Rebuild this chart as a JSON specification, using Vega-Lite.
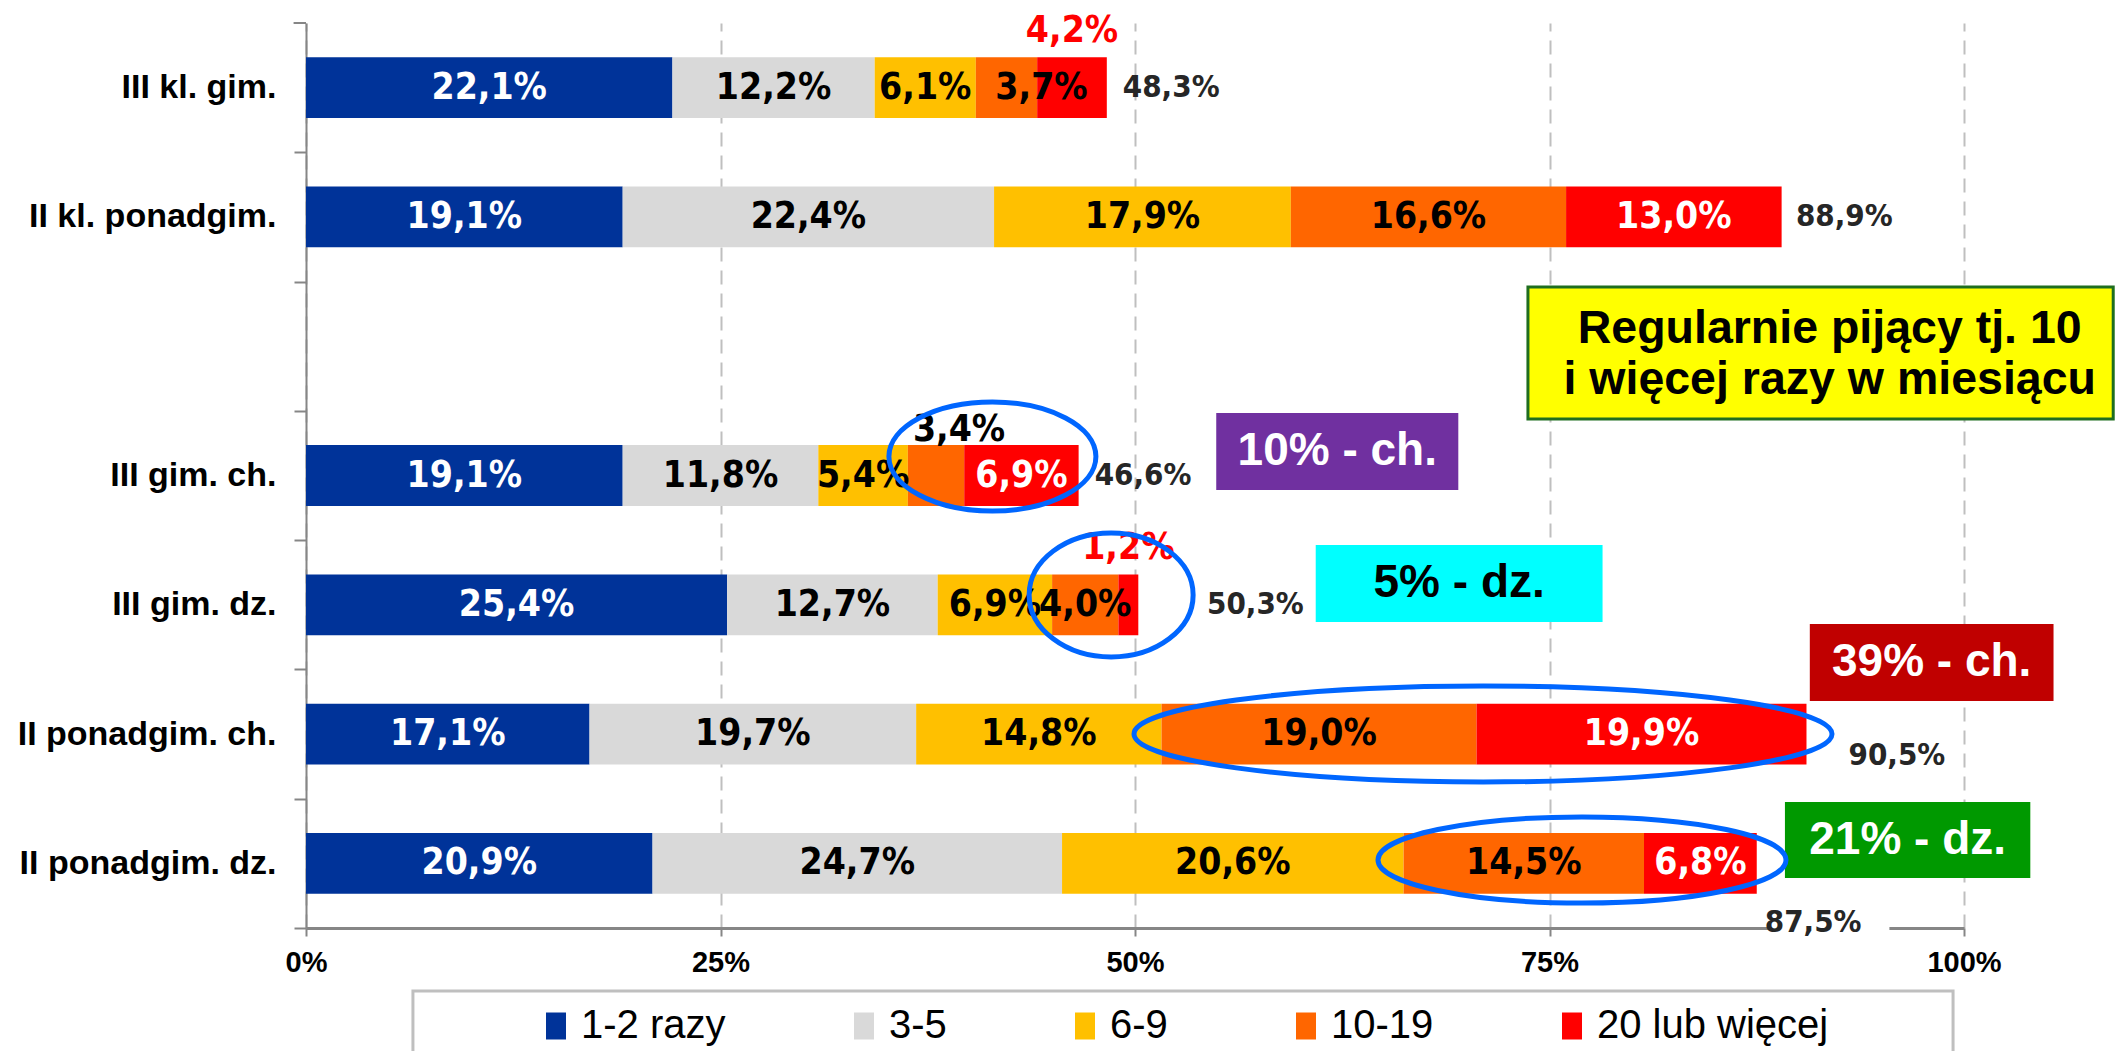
{
  "$schema": "https://vega.github.io/schema/vega-lite/v6.json",
  "width": 1658,
  "height": 905,
  "autosize": {"type": "none"},
  "padding": {"left": 306, "top": 23, "right": 157, "bottom": 123},
  "background": "#FFFFFF",
  "config": {"view": {"stroke": null}},
  "datasets": {
    "seg": [
      {"g": "III kl. gim.", "s": "1-2 razy", "k": 1, "v": 22.1, "lab": "22,1%"},
      {"g": "III kl. gim.", "s": "3-5", "k": 2, "v": 12.2, "lab": "12,2%"},
      {"g": "III kl. gim.", "s": "6-9", "k": 3, "v": 6.1, "lab": "6,1%"},
      {"g": "III kl. gim.", "s": "10-19", "k": 4, "v": 3.7, "lab": "3,7%"},
      {"g": "III kl. gim.", "s": "20 lub więcej", "k": 5, "v": 4.2, "lab": "4,2%"},
      {"g": "II kl. ponadgim.", "s": "1-2 razy", "k": 1, "v": 19.1, "lab": "19,1%"},
      {"g": "II kl. ponadgim.", "s": "3-5", "k": 2, "v": 22.4, "lab": "22,4%"},
      {"g": "II kl. ponadgim.", "s": "6-9", "k": 3, "v": 17.9, "lab": "17,9%"},
      {"g": "II kl. ponadgim.", "s": "10-19", "k": 4, "v": 16.6, "lab": "16,6%"},
      {"g": "II kl. ponadgim.", "s": "20 lub więcej", "k": 5, "v": 13.0, "lab": "13,0%"},
      {"g": "III gim. ch.", "s": "1-2 razy", "k": 1, "v": 19.1, "lab": "19,1%"},
      {"g": "III gim. ch.", "s": "3-5", "k": 2, "v": 11.8, "lab": "11,8%"},
      {"g": "III gim. ch.", "s": "6-9", "k": 3, "v": 5.4, "lab": "5,4%"},
      {"g": "III gim. ch.", "s": "10-19", "k": 4, "v": 3.4, "lab": "3,4%"},
      {"g": "III gim. ch.", "s": "20 lub więcej", "k": 5, "v": 6.9, "lab": "6,9%"},
      {"g": "III gim. dz.", "s": "1-2 razy", "k": 1, "v": 25.4, "lab": "25,4%"},
      {"g": "III gim. dz.", "s": "3-5", "k": 2, "v": 12.7, "lab": "12,7%"},
      {"g": "III gim. dz.", "s": "6-9", "k": 3, "v": 6.9, "lab": "6,9%"},
      {"g": "III gim. dz.", "s": "10-19", "k": 4, "v": 4.0, "lab": "4,0%"},
      {"g": "III gim. dz.", "s": "20 lub więcej", "k": 5, "v": 1.2, "lab": "1,2%"},
      {"g": "II ponadgim. ch.", "s": "1-2 razy", "k": 1, "v": 17.1, "lab": "17,1%"},
      {"g": "II ponadgim. ch.", "s": "3-5", "k": 2, "v": 19.7, "lab": "19,7%"},
      {"g": "II ponadgim. ch.", "s": "6-9", "k": 3, "v": 14.8, "lab": "14,8%"},
      {"g": "II ponadgim. ch.", "s": "10-19", "k": 4, "v": 19.0, "lab": "19,0%"},
      {"g": "II ponadgim. ch.", "s": "20 lub więcej", "k": 5, "v": 19.9, "lab": "19,9%"},
      {"g": "II ponadgim. dz.", "s": "1-2 razy", "k": 1, "v": 20.9, "lab": "20,9%"},
      {"g": "II ponadgim. dz.", "s": "3-5", "k": 2, "v": 24.7, "lab": "24,7%"},
      {"g": "II ponadgim. dz.", "s": "6-9", "k": 3, "v": 20.6, "lab": "20,6%"},
      {"g": "II ponadgim. dz.", "s": "10-19", "k": 4, "v": 14.5, "lab": "14,5%"},
      {"g": "II ponadgim. dz.", "s": "20 lub więcej", "k": 5, "v": 6.8, "lab": "6,8%"}
    ],
    "tot": [
      {"g": "III kl. gim.", "t": 48.3, "lab": "48,3%"},
      {"g": "II kl. ponadgim.", "t": 88.9, "lab": "88,9%"},
      {"g": "III gim. ch.", "t": 46.6, "lab": "46,6%"},
      {"g": "III gim. dz.", "t": 50.3, "lab": "50,3%"},
      {"g": "II ponadgim. ch.", "t": 90.5, "lab": "90,5%"},
      {"g": "II ponadgim. dz.", "t": 87.5, "lab": "87,5%"}
    ]
  },
  "layer": [
    {
      "data": {"name": "seg"},
      "transform": [
        {"stack": "v", "groupby": ["g"], "sort": [{"field": "k", "order": "ascending"}], "as": ["x0", "x1"]},
        {"calculate": "(datum.x0 + datum.x1) / 2", "as": "xm"}
      ],
      "layer": [
        {
          "mark": {"type": "bar", "opacity": 1},
          "encoding": {
            "y": {
              "field": "g", "type": "nominal", "title": null,
              "scale": {"domain": ["III kl. gim.", "II kl. ponadgim.", " ", "III gim. ch.", "III gim. dz.", "II ponadgim. ch.", "II ponadgim. dz."], "paddingInner": 0.53, "paddingOuter": 0.265},
              "axis": {"title": null, "domainColor": "#868686", "domainWidth": 2, "tickColor": "#868686", "tickWidth": 2, "tickSize": 12, "bandPosition": 1, "tickOffset": 34.2, "labelOffset": -34.2, "labelFont": "Liberation Sans", "labelFontWeight": "bold", "labelFontSize": 34, "labelColor": "#000000", "labelPadding": 18, "labelLimit": 400, "grid": false}
            },
            "x": {
              "field": "x0", "type": "quantitative", "title": null,
              "scale": {"domain": [0, 100], "nice": false, "zero": false},
              "axis": {"title": null, "values": [0, 25, 50, 75, 100], "labelExpr": "datum.value + '%'", "labelFlush": false, "domainColor": "#868686", "domainWidth": 3, "tickColor": "#868686", "tickWidth": 2, "tickSize": 8, "labelFont": "Liberation Sans", "labelFontWeight": "bold", "labelFontSize": 29, "labelColor": "#000000", "labelPadding": 12, "grid": true, "gridColor": "#BFBFBF", "gridWidth": 2, "gridDash": [14, 9]}
            },
            "x2": {"field": "x1"},
            "color": {
              "field": "s", "type": "nominal",
              "scale": {"domain": ["1-2 razy", "3-5", "6-9", "10-19", "20 lub więcej"], "range": ["#003399", "#D9D9D9", "#FFC000", "#FF6600", "#FF0000"]},
              "legend": {"orient": "none", "legendX": 230, "legendY": 983, "direction": "horizontal", "title": null, "padding": 0, "symbolType": "M -0.74 -1 L 0.74 -1 L 0.74 1 L -0.74 1 Z", "symbolSize": 729, "symbolStrokeWidth": 0, "labelFont": "Liberation Sans", "labelFontSize": 40, "labelColor": "#000000", "labelOffset": 5, "columnPadding": 118, "labelLimit": 500}
            }
          }
        },
        {
          "transform": [{"filter": "!((datum.g == 'III kl. gim.' && datum.k >= 4) || (datum.g == 'III gim. ch.' && datum.k == 4) || (datum.g == 'III gim. dz.' && datum.k == 5))"}],
          "mark": {"type": "text", "font": "DejaVu Sans Condensed, Liberation Sans Narrow", "fontWeight": "bold", "fontSize": 37, "align": "center", "baseline": "middle"},
          "encoding": {
            "y": {"field": "g", "type": "nominal", "title": null, "scale": {"domain": ["III kl. gim.", "II kl. ponadgim.", " ", "III gim. ch.", "III gim. dz.", "II ponadgim. ch.", "II ponadgim. dz."], "paddingInner": 0.53, "paddingOuter": 0.265}},
            "x": {"field": "xm", "type": "quantitative", "title": null, "scale": {"domain": [0, 100], "nice": false, "zero": false}},
            "text": {"field": "lab"},
            "color": {"condition": {"test": "datum.k == 1 || datum.k == 5", "value": "#FFFFFF"}, "value": "#000000"}
          }
        },
        {
          "transform": [{"filter": "datum.g == 'III kl. gim.' && datum.k == 4"}],
          "mark": {"type": "text", "font": "DejaVu Sans Condensed, Liberation Sans Narrow", "fontWeight": "bold", "fontSize": 37, "align": "center", "baseline": "middle", "dx": 35, "color": "#000000"},
          "encoding": {
            "y": {"field": "g", "type": "nominal", "title": null, "scale": {"domain": ["III kl. gim.", "II kl. ponadgim.", " ", "III gim. ch.", "III gim. dz.", "II ponadgim. ch.", "II ponadgim. dz."], "paddingInner": 0.53, "paddingOuter": 0.265}},
            "x": {"field": "xm", "type": "quantitative", "title": null, "scale": {"domain": [0, 100], "nice": false, "zero": false}},
            "text": {"field": "lab"}
          }
        },
        {
          "transform": [{"filter": "(datum.g == 'III kl. gim.' || datum.g == 'III gim. dz.') && datum.k == 5"}],
          "mark": {"type": "text", "font": "DejaVu Sans Condensed, Liberation Sans Narrow", "fontWeight": "bold", "fontSize": 37, "align": "center", "baseline": "middle", "dy": -57, "color": "#FF0000"},
          "encoding": {
            "y": {"field": "g", "type": "nominal", "title": null, "scale": {"domain": ["III kl. gim.", "II kl. ponadgim.", " ", "III gim. ch.", "III gim. dz.", "II ponadgim. ch.", "II ponadgim. dz."], "paddingInner": 0.53, "paddingOuter": 0.265}},
            "x": {"field": "xm", "type": "quantitative", "title": null, "scale": {"domain": [0, 100], "nice": false, "zero": false}},
            "text": {"field": "lab"}
          }
        },
        {
          "transform": [{"filter": "datum.g == 'III gim. ch.' && datum.k == 4"}],
          "mark": {"type": "text", "font": "DejaVu Sans Condensed, Liberation Sans Narrow", "fontWeight": "bold", "fontSize": 37, "align": "center", "baseline": "middle", "dx": 23, "dy": -46, "color": "#000000"},
          "encoding": {
            "y": {"field": "g", "type": "nominal", "title": null, "scale": {"domain": ["III kl. gim.", "II kl. ponadgim.", " ", "III gim. ch.", "III gim. dz.", "II ponadgim. ch.", "II ponadgim. dz."], "paddingInner": 0.53, "paddingOuter": 0.265}},
            "x": {"field": "xm", "type": "quantitative", "title": null, "scale": {"domain": [0, 100], "nice": false, "zero": false}},
            "text": {"field": "lab"}
          }
        }
      ]
    },
    {
      "data": {"values": [{"xa": 88.3, "xb": 95.5, "ua": 6.93, "ub": 7.03}]},
      "mark": {"type": "rect", "fill": "#FFFFFF"},
      "encoding": {
        "x": {"field": "xa", "type": "quantitative", "title": null, "scale": {"domain": [0, 100], "nice": false, "zero": false}},
        "x2": {"field": "xb"},
        "y": {"field": "ua", "type": "quantitative", "scale": {"domain": [0, 7], "reverse": true, "nice": false, "zero": false}, "axis": null},
        "y2": {"field": "ub"}
      }
    },
    {
      "data": {"name": "tot"},
      "layer": [
        {
          "transform": [{"filter": "datum.g == 'III kl. gim.' || datum.g == 'II kl. ponadgim.' || datum.g == 'III gim. ch.'"}],
          "mark": {"type": "text", "font": "DejaVu Sans Condensed, Liberation Sans Narrow", "fontWeight": "bold", "fontSize": 31, "align": "left", "baseline": "middle", "dx": 16, "color": "#262626"}
        },
        {
          "transform": [{"filter": "datum.g == 'III gim. dz.'"}],
          "mark": {"type": "text", "font": "DejaVu Sans Condensed, Liberation Sans Narrow", "fontWeight": "bold", "fontSize": 31, "align": "left", "baseline": "middle", "dx": 67, "color": "#262626"}
        },
        {
          "transform": [{"filter": "datum.g == 'II ponadgim. ch.'"}],
          "mark": {"type": "text", "font": "DejaVu Sans Condensed, Liberation Sans Narrow", "fontWeight": "bold", "fontSize": 31, "align": "left", "baseline": "middle", "dx": 42, "dy": 22, "color": "#262626"}
        },
        {
          "transform": [{"filter": "datum.g == 'II ponadgim. dz.'"}],
          "mark": {"type": "text", "font": "DejaVu Sans Condensed, Liberation Sans Narrow", "fontWeight": "bold", "fontSize": 31, "align": "left", "baseline": "middle", "dx": 8, "dy": 60, "color": "#262626"}
        }
      ],
      "encoding": {
        "y": {"field": "g", "type": "nominal", "scale": {"domain": ["III kl. gim.", "II kl. ponadgim.", " ", "III gim. ch.", "III gim. dz.", "II ponadgim. ch.", "II ponadgim. dz."], "paddingInner": 0.53, "paddingOuter": 0.265}, "axis": null},
        "x": {"field": "t", "type": "quantitative", "title": null, "scale": {"domain": [0, 100], "nice": false, "zero": false}},
        "text": {"field": "lab"}
      }
    },
    {
      "layer": [
        {
          "data": {"values": [{"xa": -0.75, "xb": 0, "ua": 0}]},
          "mark": {"type": "rule", "stroke": "#868686", "strokeWidth": 2},
          "encoding": {"x": {"field": "xa", "type": "quantitative", "title": null, "scale": {"domain": [0, 100], "nice": false, "zero": false}}, "x2": {"field": "xb"}, "y": {"field": "ua", "type": "quantitative", "scale": {"domain": [0, 7], "reverse": true, "nice": false, "zero": false}, "axis": null}}
        },
        {
          "data": {"values": [{"xa": 73.7, "xb": 109.0, "ua": 2.042, "ub": 3.063}]},
          "mark": {"type": "rect", "fill": "#FFFF00", "stroke": "#1F6E1F", "strokeWidth": 3},
          "encoding": {"x": {"field": "xa", "type": "quantitative", "title": null, "scale": {"domain": [0, 100], "nice": false, "zero": false}}, "x2": {"field": "xb"}, "y": {"field": "ua", "type": "quantitative", "scale": {"domain": [0, 7], "reverse": true, "nice": false, "zero": false}, "axis": null}, "y2": {"field": "ub"}}
        },
        {
          "data": {"values": [{"xa": 54.9, "xb": 69.5, "ua": 3.016, "ub": 3.612}]},
          "mark": {"type": "rect", "fill": "#7030A0"},
          "encoding": {"x": {"field": "xa", "type": "quantitative", "title": null, "scale": {"domain": [0, 100], "nice": false, "zero": false}}, "x2": {"field": "xb"}, "y": {"field": "ua", "type": "quantitative", "scale": {"domain": [0, 7], "reverse": true, "nice": false, "zero": false}, "axis": null}, "y2": {"field": "ub"}}
        },
        {
          "data": {"values": [{"xa": 60.9, "xb": 78.2, "ua": 4.037, "ub": 4.633}]},
          "mark": {"type": "rect", "fill": "#00FFFF"},
          "encoding": {"x": {"field": "xa", "type": "quantitative", "title": null, "scale": {"domain": [0, 100], "nice": false, "zero": false}}, "x2": {"field": "xb"}, "y": {"field": "ua", "type": "quantitative", "scale": {"domain": [0, 7], "reverse": true, "nice": false, "zero": false}, "axis": null}, "y2": {"field": "ub"}}
        },
        {
          "data": {"values": [{"xa": 90.7, "xb": 105.4, "ua": 4.648, "ub": 5.244}]},
          "mark": {"type": "rect", "fill": "#C00000"},
          "encoding": {"x": {"field": "xa", "type": "quantitative", "title": null, "scale": {"domain": [0, 100], "nice": false, "zero": false}}, "x2": {"field": "xb"}, "y": {"field": "ua", "type": "quantitative", "scale": {"domain": [0, 7], "reverse": true, "nice": false, "zero": false}, "axis": null}, "y2": {"field": "ub"}}
        },
        {
          "data": {"values": [{"xa": 89.2, "xb": 104.0, "ua": 6.025, "ub": 6.613}]},
          "mark": {"type": "rect", "fill": "#009900"},
          "encoding": {"x": {"field": "xa", "type": "quantitative", "title": null, "scale": {"domain": [0, 100], "nice": false, "zero": false}}, "x2": {"field": "xb"}, "y": {"field": "ua", "type": "quantitative", "scale": {"domain": [0, 7], "reverse": true, "nice": false, "zero": false}, "axis": null}, "y2": {"field": "ub"}}
        },
        {
          "data": {"values": [{"xa": 6.45, "xb": 99.34, "ua": 7.487, "ub": 8.4}]},
          "mark": {"type": "rect", "filled": false, "stroke": "#BFBFBF", "strokeWidth": 3},
          "encoding": {"x": {"field": "xa", "type": "quantitative", "title": null, "scale": {"domain": [0, 100], "nice": false, "zero": false}}, "x2": {"field": "xb"}, "y": {"field": "ua", "type": "quantitative", "scale": {"domain": [0, 7], "reverse": true, "nice": false, "zero": false}, "axis": null}, "y2": {"field": "ub"}}
        },
        {
          "data": {"values": [{"xc": 91.9, "uc": 2.367, "t": "Regularnie pijący tj. 10\ni więcej razy w miesiącu"}]},
          "mark": {"type": "text", "font": "Liberation Sans", "fontWeight": "bold", "fontSize": 46.5, "lineBreak": "\n", "lineHeight": 51, "align": "center", "baseline": "middle", "color": "#000000"},
          "encoding": {"x": {"field": "xc", "type": "quantitative", "title": null, "scale": {"domain": [0, 100], "nice": false, "zero": false}}, "y": {"field": "uc", "type": "quantitative", "scale": {"domain": [0, 7], "reverse": true, "nice": false, "zero": false}, "axis": null}, "text": {"field": "t"}}
        },
        {
          "data": {"values": [{"xc": 62.2, "uc": 3.314, "t": "10% - ch."}, {"xc": 98.05, "uc": 4.946, "t": "39% - ch."}, {"xc": 96.6, "uc": 6.319, "t": "21% - dz."}]},
          "mark": {"type": "text", "font": "Liberation Sans", "fontWeight": "bold", "fontSize": 46, "align": "center", "baseline": "middle", "color": "#FFFFFF"},
          "encoding": {"x": {"field": "xc", "type": "quantitative", "title": null, "scale": {"domain": [0, 100], "nice": false, "zero": false}}, "y": {"field": "uc", "type": "quantitative", "scale": {"domain": [0, 7], "reverse": true, "nice": false, "zero": false}, "axis": null}, "text": {"field": "t"}}
        },
        {
          "data": {"values": [{"xc": 69.55, "uc": 4.335, "t": "5% - dz."}]},
          "mark": {"type": "text", "font": "Liberation Sans", "fontWeight": "bold", "fontSize": 46, "align": "center", "baseline": "middle", "color": "#000000"},
          "encoding": {"x": {"field": "xc", "type": "quantitative", "title": null, "scale": {"domain": [0, 100], "nice": false, "zero": false}}, "y": {"field": "uc", "type": "quantitative", "scale": {"domain": [0, 7], "reverse": true, "nice": false, "zero": false}, "axis": null}, "text": {"field": "t"}}
        },
        {
          "data": {"values": [{"xc": 41.4, "uc": 3.353}]},
          "mark": {"type": "point", "shape": "M -1 0 C -1 -0.291 -0.5523 -0.527 0 -0.527 C 0.5523 -0.527 1 -0.291 1 0 C 1 0.291 0.5523 0.527 0 0.527 C -0.5523 0.527 -1 0.291 -1 0 Z", "size": 42849, "filled": false, "stroke": "#0066FF", "strokeWidth": 5, "opacity": 1},
          "encoding": {"x": {"field": "xc", "type": "quantitative", "title": null, "scale": {"domain": [0, 100], "nice": false, "zero": false}}, "y": {"field": "uc", "type": "quantitative", "scale": {"domain": [0, 7], "reverse": true, "nice": false, "zero": false}, "axis": null}}
        },
        {
          "data": {"values": [{"xc": 48.56, "uc": 4.424}]},
          "mark": {"type": "point", "shape": "M -1 0 C -1 -0.4175 -0.5523 -0.756 0 -0.756 C 0.5523 -0.756 1 -0.4175 1 0 C 1 0.4175 0.5523 0.756 0 0.756 C -0.5523 0.756 -1 0.4175 -1 0 Z", "size": 26896, "filled": false, "stroke": "#0066FF", "strokeWidth": 5, "opacity": 1},
          "encoding": {"x": {"field": "xc", "type": "quantitative", "title": null, "scale": {"domain": [0, 100], "nice": false, "zero": false}}, "y": {"field": "uc", "type": "quantitative", "scale": {"domain": [0, 7], "reverse": true, "nice": false, "zero": false}, "axis": null}}
        },
        {
          "data": {"values": [{"xc": 70.99, "uc": 5.499}]},
          "mark": {"type": "point", "shape": "M -1 0 C -1 -0.0759 -0.5523 -0.1375 0 -0.1375 C 0.5523 -0.1375 1 -0.0759 1 0 C 1 0.0759 0.5523 0.1375 0 0.1375 C -0.5523 0.1375 -1 0.0759 -1 0 Z", "size": 487204, "filled": false, "stroke": "#0066FF", "strokeWidth": 5, "opacity": 1},
          "encoding": {"x": {"field": "xc", "type": "quantitative", "title": null, "scale": {"domain": [0, 100], "nice": false, "zero": false}}, "y": {"field": "uc", "type": "quantitative", "scale": {"domain": [0, 7], "reverse": true, "nice": false, "zero": false}, "axis": null}}
        },
        {
          "data": {"values": [{"xc": 76.96, "uc": 6.474}]},
          "mark": {"type": "point", "shape": "M -1 0 C -1 -0.1165 -0.5523 -0.211 0 -0.211 C 0.5523 -0.211 1 -0.1165 1 0 C 1 0.1165 0.5523 0.211 0 0.211 C -0.5523 0.211 -1 0.1165 -1 0 Z", "size": 166464, "filled": false, "stroke": "#0066FF", "strokeWidth": 5, "opacity": 1},
          "encoding": {"x": {"field": "xc", "type": "quantitative", "title": null, "scale": {"domain": [0, 100], "nice": false, "zero": false}}, "y": {"field": "uc", "type": "quantitative", "scale": {"domain": [0, 7], "reverse": true, "nice": false, "zero": false}, "axis": null}}
        }
      ]
    }
  ],
  "resolve": {"scale": {"y": "independent"}}
}
